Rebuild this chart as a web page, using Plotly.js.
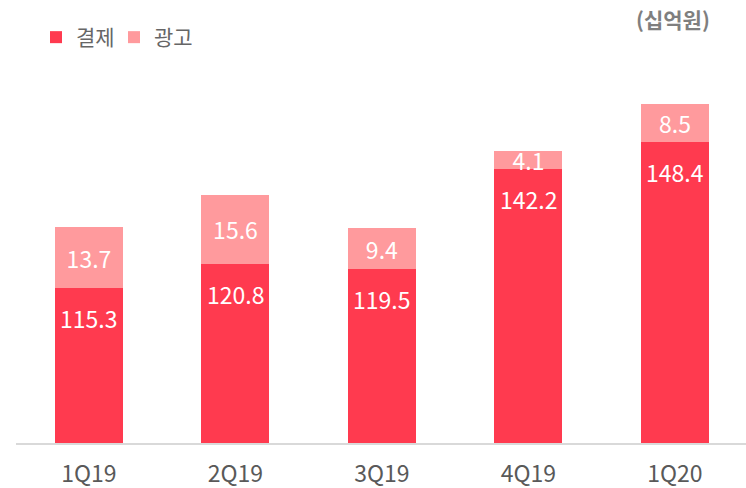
<!DOCTYPE html>
<html>
<head>
<meta charset="utf-8">
<script src="https://cdn.plot.ly/plotly-3.0.1.min.js"></script>
<style>html,body{margin:0;padding:0;background:#fff;}#chart{width:746px;height:488px;}</style>
</head>
<body>
<div id="chart"></div>
<script>
var categories = ['1Q19', '2Q19', '3Q19', '4Q19', '1Q20'];
var payment = [115.3, 120.8, 119.5, 142.2, 148.4];
var ads = [13.7, 15.6, 9.4, 4.1, 8.5];
var seriesNames = ['결제', '광고'];
var unitLabel = '(십억원)';

var FONT = '"Noto Sans CJK KR", "Noto Sans", sans-serif';
var RED = '#FF3A4F';
var PINK = '#FF9A9D';

var traces = [
  {
    type: 'bar', name: seriesNames[0], x: categories, y: payment,
    marker: {color: RED}, textposition: 'none', hoverinfo: 'skip'
  },
  {
    type: 'bar', name: seriesNames[1], x: categories, y: ads,
    marker: {color: PINK},
    text: ads.map(function(v){return v.toFixed(1);}),
    textposition: 'inside', insidetextanchor: 'middle', constraintext: 'none', textangle: 0,
    insidetextfont: {family: FONT, size: 23, color: '#ffffff'},
    hoverinfo: 'skip'
  }
];

var annotations = categories.map(function(c, i){
  return {
    x: c, y: payment[i], xref: 'x', yref: 'y',
    text: payment[i].toFixed(1), showarrow: false,
    yanchor: 'middle', yshift: -30,
    font: {family: FONT, size: 23, color: '#ffffff'}
  };
});
annotations.push({
  xref: 'paper', yref: 'paper', x: 657/730, y: 1 + 41/383,
  xanchor: 'center', yanchor: 'middle', showarrow: false,
  text: '<b>' + unitLabel + '</b>',
  font: {family: FONT, size: 21, color: '#7f7f7f'}
});

var layout = {
  width: 746, height: 488,
  margin: {l: 16, r: 0, t: 60, b: 45},
  paper_bgcolor: '#ffffff', plot_bgcolor: '#ffffff',
  barmode: 'stack', bargap: 0.536,
  showlegend: true,
  legend: {
    orientation: 'h', xref: 'container', yref: 'container',
    x: 36/746, y: 1 - 17/488, xanchor: 'left', yanchor: 'top',
    traceorder: 'normal', entrywidth: 33, entrywidthmode: 'pixels',
    font: {family: FONT, size: 21, color: '#666666'},
    bgcolor: 'rgba(0,0,0,0)'
  },
  xaxis: {
    type: 'category', range: [-0.498, 4.485],
    showgrid: false, zeroline: false,
    showline: true, linecolor: '#d9d9d9', linewidth: 2,
    ticks: '', tickfont: {family: FONT, size: 23, color: '#595959'},
    ticklabelstandoff: 9
  },
  yaxis: {
    range: [80.2, 166.85], visible: false, showgrid: false, zeroline: false, fixedrange: true
  },
  annotations: annotations
};

Plotly.newPlot('chart', traces, layout, {displayModeBar: false, staticPlot: true});
</script>
</body>
</html>
